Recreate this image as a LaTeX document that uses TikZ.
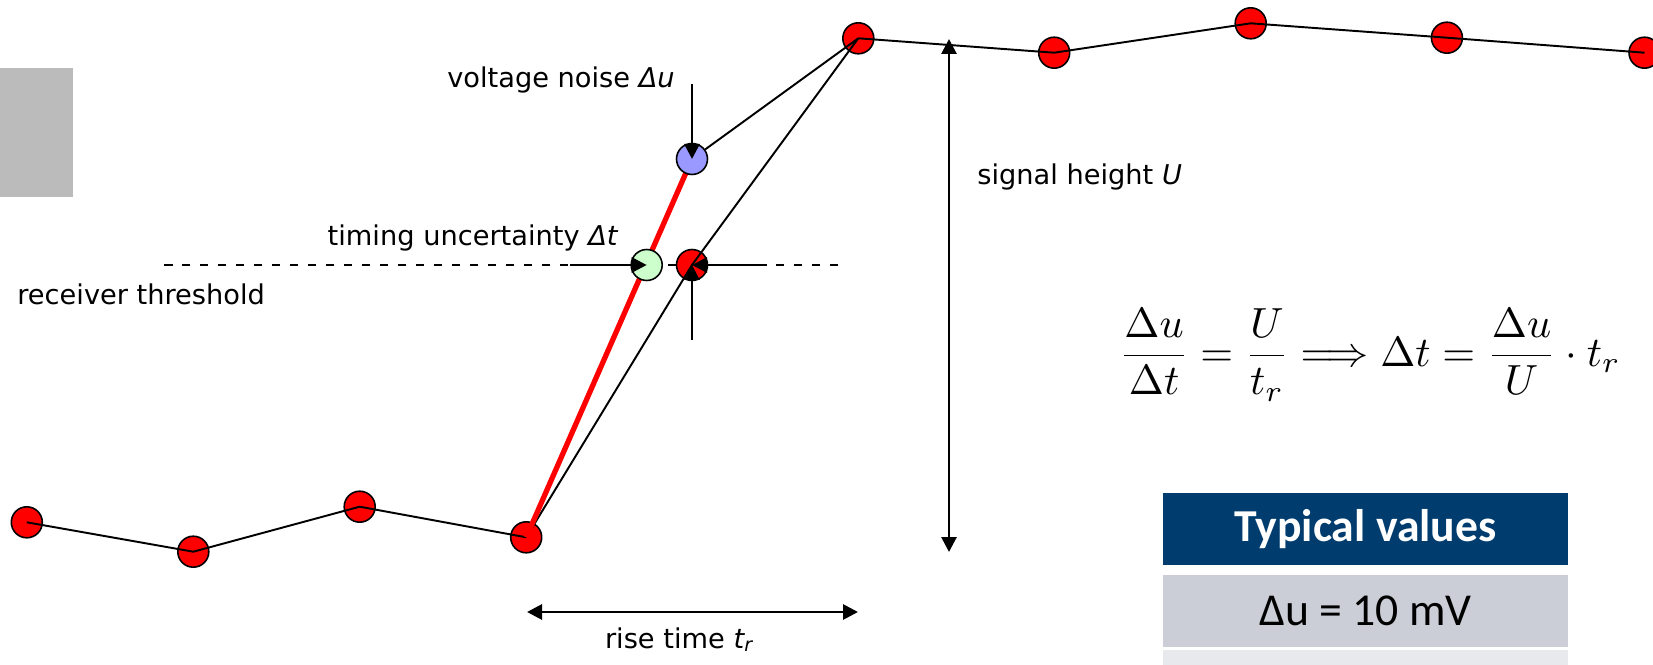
\documentclass[tikz,border=0pt]{standalone}
\usepackage[no-math]{fontspec}
\setmainfont{DejaVu Sans}
\newfontfamily\tablefont{Carlito}
\usetikzlibrary{positioning,arrows.meta}
\definecolor{tabhead}{RGB}{0,61,110}
\definecolor{tabrow}{RGB}{203,206,214}
\definecolor{tabrowlight}{RGB}{232,233,237}
\definecolor{grayblock}{RGB}{187,187,187}
\definecolor{noiseblue}{RGB}{153,153,255}
\definecolor{timegreen}{RGB}{204,255,204}

\begin{document}
\begin{tikzpicture}[x=0.02cm, y=-0.02cm,
    dot/.style     ={circle, draw, line width=0.9pt, fill=red, minimum size=0.62cm, inner sep=0pt},
    bluedot/.style ={dot, fill=noiseblue},
    greendot/.style={dot, fill=timegreen},
    sig/.style     ={line width=1.1pt},
    arr/.style     ={-{Triangle[length=0.3cm, width=0.3cm]}, line width=1.6pt},
    dblarr/.style  ={{Triangle[length=0.3cm, width=0.3cm]}-{Triangle[length=0.3cm, width=0.3cm]}, line width=1.6pt},
    lbl/.style     ={font=\fontsize{15.5}{18}\selectfont, inner sep=0pt},
    cell/.style    ={rectangle, minimum width=8.1cm, minimum height=1.44cm, inner sep=0pt,
                     font=\tablefont\fontsize{26}{30}\selectfont}]
    \useasboundingbox (0,0) rectangle (1653,665);
    \fill[grayblock] (0,68) rectangle (73,197);

    % receiver threshold
    \coordinate (thleft)  at (164,265);
    \coordinate (thright) at (843,265);
    \draw[line width=0.9pt, dash pattern=on 0.17cm off 0.19cm] (thleft) -- (thright);

    % sampled signal
    \node[dot] (p1)  at (26.8,522.3) {};
    \node[dot] (p2)  at (193.3,551.7) {};
    \node[dot] (p3)  at (359.7,506.7) {};
    \node[dot] (p4)  at (526.2,537.3) {};
    \node[dot] (top) at (858.3,38.3) {};
    \node[dot] (p6)  at (1054.2,52.7) {};
    \node[dot] (p7)  at (1250.7,23.3) {};
    \node[dot] (p8)  at (1446.9,37.7) {};
    \node[dot] (p9)  at (1644.5,52.7) {};
    \node[dot] (thr) at (692,265) {};
    \draw[sig] (p1.center) -- (p2.center) -- (p3.center) -- (p4.center);
    \draw[sig] (top.center) -- (p6.center) -- (p7.center) -- (p8.center) -- (p9.center);
    \draw[sig] (p4.center) -- (thr.center) -- (top.center);

    % noisy edge
    \coordinate (noisept) at (692,159);
    \draw[red, line width=3pt] (p4.center) -- (noisept);
    \node[bluedot]  (noisy) at (noisept) {};
    \node[greendot] (early) at (646.7,265) {};
    \draw[sig] (noisy) -- (top.center);

    % arrows
    \coordinate (noisetop) at (692,84);
    \coordinate (tleft)    at (570,265);
    \coordinate (tright)   at (767,265);
    \coordinate (tbottom)  at (692,340);
    \draw[arr] (noisetop) -- (noisy.center);
    \draw[arr] (tleft) -- (early.center);
    \draw[arr] (tright) -- (thr.center);
    \draw[arr] (tbottom) -- (thr.center);
    \coordinate (htop) at (949,39);
    \coordinate (hbot) at (949,552);
    \draw[dblarr] (hbot) -- (htop);
    \coordinate (riseleft)  at (527,612);
    \coordinate (riseright) at (858,612);
    \draw[dblarr] (riseleft) -- (riseright);

    % labels
    \node[lbl, anchor=base east] (noiselbl)  at (675,88)  {voltage noise {\itshape Δu}};
    \node[lbl, anchor=base east] (timelbl)   at (618,246) {timing uncertainty {\itshape Δt}};
    \node[lbl, anchor=base west] (threshlbl) at (17,305)  {receiver threshold};
    \node[lbl, anchor=base west] (heightlbl) at (977,185) {signal height {\itshape U}};
    \node[lbl, anchor=base]      (riselbl)   at (679,648) {rise time {\itshape t}\textsubscript{\itshape r}};

    \node (formula) at (1370,355)
      {\scalebox{2.4}{$\displaystyle \frac{\Delta u}{\Delta t}=\frac{U}{t_r}\Longrightarrow\Delta t=\frac{\Delta u}{U}\cdot t_r$}};

    % table
    \node[cell, fill=tabhead, text=white, font=\tablefont\bfseries\fontsize{26}{30}\selectfont]
                                         (tabhead)  at (1365.5,529) {Typical values};
    \node[cell, fill=tabrow, below=0.18cm of tabhead] (tabdu)   {Δu = 10 mV};
    \node[cell, fill=tabrowlight, below=0.06cm of tabdu] (tabnext) {};
\end{tikzpicture}
\end{document}
